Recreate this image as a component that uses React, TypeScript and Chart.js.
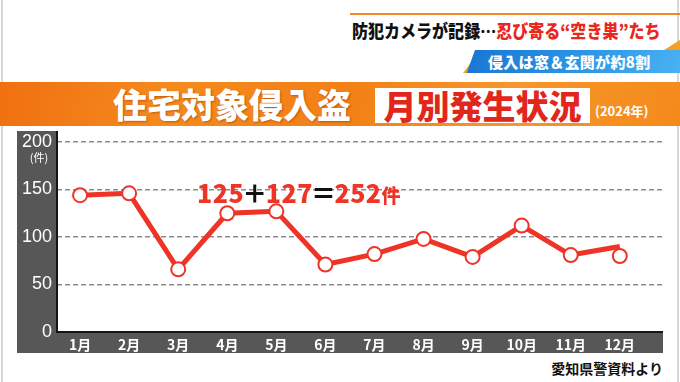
import React, { useEffect, useRef } from "react";
import { Chart, registerables } from "chart.js";

Chart.register(...registerables);

const months = ["1月", "2月", "3月", "4月", "5月", "6月", "7月", "8月", "9月", "10月", "11月", "12月"];
const markerCounts = [144, 146, 66, 125, 127, 71, 82, 98, 79, 112, 81, 80];
const lineCounts = [144, 146, 66, 125, 127, 71, 82, 98, 79, 112, 81, 90];
const yTicks = [0, 50, 100, 150, 200];
const yUnit = "(件)";

const JP = '"Noto Sans CJK JP", "Noto Sans", sans-serif';
const RED = "#ee3426";

const panelPlugin = {
  id: "panel",
  beforeDraw(chart: any) {
    const { ctx, chartArea, width, height } = chart;
    ctx.save();
    ctx.fillStyle = "#575757";
    ctx.fillRect(0, 0, width, height);
    ctx.fillStyle = "#ffffff";
    ctx.fillRect(chartArea.left, 0, chartArea.right - chartArea.left, chartArea.bottom);
    ctx.restore();
  },
  beforeDatasetsDraw(chart: any) {
    const { ctx, chartArea } = chart;
    ctx.save();
    ctx.strokeStyle = "#151515";
    ctx.lineWidth = 2;
    ctx.beginPath();
    ctx.moveTo(chartArea.left, 0);
    ctx.lineTo(chartArea.left, chartArea.bottom);
    ctx.lineTo(chartArea.right, chartArea.bottom);
    ctx.stroke();
    ctx.restore();
  },
  afterDraw(chart: any) {
    const { ctx, scales } = chart;
    const y = scales.y.getPixelForValue(yTicks[yTicks.length - 1]);
    ctx.save();
    ctx.fillStyle = "#ffffff";
    ctx.font = `11px ${JP}`;
    ctx.textAlign = "center";
    ctx.textBaseline = "middle";
    ctx.fillText(yUnit, 22, y + 16);
    ctx.restore();
  },
};

function ChartPanel() {
  const ref = useRef<HTMLCanvasElement>(null);
  useEffect(() => {
    if (!ref.current) return;
    const chart = new Chart(ref.current, {
      type: "line",
      data: {
        datasets: [
          {
            data: markerCounts.map((v, i) => ({ x: i, y: v })),
            showLine: false,
            pointRadius: 7,
            pointBorderWidth: 2,
            pointBorderColor: RED,
            pointBackgroundColor: "#ffffff",
          },
          {
            data: lineCounts.map((v, i) => ({ x: i, y: v })),
            borderColor: RED,
            borderWidth: 5,
            pointRadius: 0,
            tension: 0,
            borderJoinStyle: "round",
          },
        ],
      },
      options: {
        animation: false,
        responsive: false,
        maintainAspectRatio: false,
        layout: { autoPadding: false, padding: { top: 11, left: 0, right: 0, bottom: 0 } },
        plugins: { legend: { display: false }, tooltip: { enabled: false } },
        scales: {
          x: {
            type: "linear",
            min: -0.47,
            max: 11.88,
            afterBuildTicks: (s: any) => {
              s.ticks = months.map((_, i) => ({ value: i }));
            },
            afterFit: (s: any) => {
              s.height = 21;
              s.paddingLeft = 0;
              s.paddingRight = 0;
              s.paddingTop = 0;
              s.paddingBottom = 0;
            },
            ticks: {
              autoSkip: false,
              maxRotation: 0,
              padding: 4,
              color: "#ffffff",
              font: { family: JP, size: 14, weight: "bold" },
              callback: (v: any) => months[v],
            },
            grid: { display: false, drawTicks: false },
            border: { display: false },
          },
          y: {
            min: 0,
            max: 200,
            afterBuildTicks: (s: any) => {
              s.ticks = yTicks.map((v) => ({ value: v }));
            },
            afterFit: (s: any) => {
              s.width = 40;
              s.paddingLeft = 0;
              s.paddingRight = 0;
              s.paddingTop = 0;
              s.paddingBottom = 0;
            },
            ticks: {
              padding: 5,
              color: "#ffffff",
              font: { family: '"Liberation Sans", Arial, sans-serif', size: 18 },
            },
            grid: {
              drawTicks: false,
              lineWidth: 1.5,
              color: (c: any) => (c.tick && c.tick.value === 0 ? "rgba(0,0,0,0)" : "#8c8c8c"),
            },
            border: { display: false, dash: [5, 3] },
          },
        },
      } as any,
      plugins: [panelPlugin],
    });
    return () => chart.destroy();
  }, []);
  return (
    <canvas
      ref={ref}
      width={646}
      height={222}
      style={{ position: "absolute", left: 17, top: 131, width: 646, height: 222 }}
    />
  );
}

export default function App() {
  const abs = (s: React.CSSProperties): React.CSSProperties => ({ position: "absolute", ...s });
  return (
    <div
      style={{
        position: "fixed",
        left: 0,
        top: 0,
        width: 680,
        height: 382,
        background: "#ffffff",
        overflow: "hidden",
        fontFamily: JP,
      }}
    >
      <div style={abs({ left: 1, top: 0, width: 2, height: 382, background: "#d8d8d8" })} />
      <div style={abs({ left: 677, top: 0, width: 2, height: 382, background: "#d8d8d8" })} />
      {/* header */}
      <div style={abs({ left: 350, top: 13, width: 330, height: 2, background: "#f08a28" })} />
      <div
        style={abs({
          left: 352,
          top: 19,
          fontSize: 18,
          fontWeight: 900,
          lineHeight: "22px",
          whiteSpace: "nowrap",
          transform: "scaleX(0.89)",
          transformOrigin: "left center",
          color: "#111",
        })}
      >
        防犯カメラが記録…<span style={{ color: "#e8281e" }}>忍び寄る“空き巣”たち</span>
      </div>
      <div style={abs({ left: 664, top: 40, width: 0, height: 0, borderLeft: "16px solid transparent", borderBottom: "10px solid #f5a020" })} />
      <div style={abs({ left: 463, top: 60, width: 0, height: 0, borderRight: "10px solid #f5a020", borderTop: "13px solid transparent" })} />
      <div
        style={abs({
          left: 475,
          top: 50,
          width: 215,
          height: 23,
          background: "linear-gradient(90deg, #1a78d4, #2f9be8 60%, #4bb2f2)",
          transform: "skewX(-20deg)",
          transformOrigin: "left top",
        })}
      />
      <div
        style={abs({
          left: 488,
          top: 50,
          height: 23,
          lineHeight: "23px",
          fontSize: 15,
          fontWeight: 900,
          color: "#fff",
          whiteSpace: "nowrap",
          letterSpacing: 0.3,
        })}
      >
        侵入は窓＆玄関が約8割
      </div>
      {/* orange title band */}
      <div
        style={abs({
          left: 0,
          top: 82,
          width: 680,
          height: 44,
          background: "linear-gradient(100deg, #f07010 0%, #f58a1e 25%, #f28016 50%, #f7962a 75%, #f48a1c 100%)",
        })}
      />
      <div
        style={abs({
          left: 113,
          top: 84,
          height: 40,
          lineHeight: "40px",
          fontSize: 34,
          fontWeight: 900,
          color: "#fff",
          whiteSpace: "nowrap",
          textShadow: "1px 1px 2px rgba(120,40,0,0.45)",
        })}
      >
        住宅対象侵入盗
      </div>
      <div
        style={abs({
          left: 375,
          top: 88,
          width: 215,
          height: 35,
          background: "#fff",
          color: "#e1261c",
          fontSize: 33,
          fontWeight: 900,
          lineHeight: "35px",
          textAlign: "center",
          whiteSpace: "nowrap",
        })}
      >
        月別発生状況
      </div>
      <div
        style={abs({
          left: 595,
          top: 103,
          fontSize: 13,
          fontWeight: 700,
          color: "#fff",
          lineHeight: "16px",
          whiteSpace: "nowrap",
        })}
      >
        (2024年)
      </div>
      <ChartPanel />
      {/* annotation */}
      <div
        style={abs({
          left: 197,
          top: 179,
          fontSize: 25,
          fontWeight: 900,
          lineHeight: "26px",
          whiteSpace: "nowrap",
          color: RED,
          letterSpacing: 0.5,
        })}
      >
        <span>125</span>
        <span style={{ color: "#111", margin: "0 -2px" }}>＋</span>
        <span>127</span>
        <span style={{ color: "#111", margin: "0 -2px" }}>＝</span>
        <span>252</span>
        <span style={{ fontSize: 19 }}>件</span>
      </div>
      <div
        style={abs({
          right: 17,
          top: 359,
          fontSize: 14,
          fontWeight: 700,
          color: "#111",
          lineHeight: "18px",
          whiteSpace: "nowrap",
        })}
      >
        愛知県警資料より
      </div>
    </div>
  );
}
